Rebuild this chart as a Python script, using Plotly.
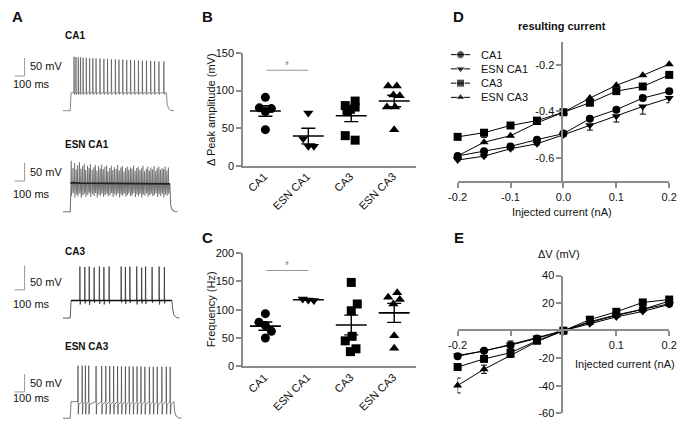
import numpy as np
import plotly.graph_objects as go

W, H = 686, 431
FONT = "Liberation Sans, Arial, sans-serif"

# ---------------- Panel B / C data ----------------
groups = ["CA1", "ESN CA1", "CA3", "ESN CA3"]
symbols = ["circle", "triangle-down", "square", "triangle-up"]

peak_CA1 = [91, 77, 76, 72, 48]
peak_ESN_CA1 = [70, 36, 26, 26]
peak_CA3 = [86, 80, 78, 75, 72, 40, 34]
peak_ESN_CA3 = [106, 106, 94, 93, 78, 78, 48]

freq_CA1 = [93, 78, 72, 62, 50]
freq_ESN_CA1 = [119, 117, 116]
freq_CA3 = [148, 110, 98, 53, 45, 31, 26]
freq_ESN_CA3 = [130, 122, 118, 110, 54, 32]

# horizontal scatter of the dots within each column (category units)
peak_jitter = [[0, -0.14, 0.14, 0, 0], [0, -0.12, 0, 0.13],
               [0.09, -0.14, 0.09, -0.02, -0.1, -0.14, 0.09],
               [-0.14, 0.06, -0.02, 0.13, -0.17, 0.02, 0]]
freq_jitter = [[0, -0.15, 0, 0.14, 0], [-0.13, 0, 0.13],
               [0, 0.14, 0, 0.02, -0.14, 0.11, -0.02],
               [0.07, -0.14, 0.13, -0.02, 0, 0]]

# ---------------- Panel D / E data ----------------
injected = [-0.2, -0.15, -0.1, -0.05, 0.0, 0.05, 0.1, 0.15, 0.2]
cur_CA1 = [-0.592, -0.572, -0.551, -0.522, -0.496, -0.432, -0.393, -0.343, -0.314]
cur_ESN_CA1 = [-0.61, -0.593, -0.561, -0.54, -0.501, -0.46, -0.421, -0.379, -0.343]
cur_CA3 = [-0.51, -0.492, -0.461, -0.44, -0.404, -0.363, -0.313, -0.293, -0.243]
cur_ESN_CA3 = [-0.592, -0.533, -0.505, -0.45, -0.404, -0.343, -0.288, -0.245, -0.197]
cur_err_ESN_CA1 = [0.004, 0.004, 0.005, 0.005, 0.006, 0.021, 0.025, 0.033, 0.02]
cur_err_CA3 = [0.0, 0.02, 0.0, 0.0, 0.0, 0.0, 0.0, 0.0, 0.0]

dv_CA1 = [-18.6, -14.5, -10.5, -5.6, 0, 6.5, 11.5, 15.5, 19.5]
dv_ESN_CA1 = [-18.0, -14.8, -10.0, -5.0, 0, 5.0, 10.0, 14.0, 19.0]
dv_CA3 = [-26.4, -20.5, -16.0, -7.3, 0, 8.0, 13.7, 20.5, 22.6]
dv_ESN_CA3 = [-39.8, -28.0, -18.0, -8.0, 0, 6.0, 11.0, 15.5, 21.5]
dv_err_ESN_CA3 = [5.4, 3.0, 1.5, 0.5, 0, 0.5, 0.5, 0.5, 0.5]
dv_err_CA1 = [0.5, 0.5, 3.0, 0.5, 0, 0.5, 0.5, 0.5, 0.5]

# ---------------- Panel A traces (ms, mV) ----------------
CA1_spike_t = [36, 55, 78, 100, 126, 158, 191, 223, 255, 294, 333, 369, 408, 447,
               483, 521, 560, 599, 638, 677, 716, 757, 799, 838, 881, 930]
CA1_spike_peak = [80, 79, 78, 78, 77, 77, 76, 76, 75, 75, 74, 74, 73, 73, 72, 72,
                  71, 71, 70, 70, 69, 69, 68, 68, 67, 67]
CA1_step = (0, 955, -70, -20)  # on, off, rest, plateau

ESN_CA1_spike_t = [8, 25, 41, 58, 72, 90, 105, 121, 138, 152, 170, 186, 199, 217, 233,
                   248, 264, 280, 296, 311, 327, 343, 360, 374, 391, 407, 422, 438,
                   455, 470, 486, 502, 517, 533, 549, 565, 580, 597, 612, 628, 644,
                   660, 675, 691, 707, 722, 738, 755, 770, 786, 801, 817, 833, 849,
                   864, 880, 896, 912, 927, 943, 959, 975]
ESN_CA1_spike_peak = [72, 52, 66, 48, 60, 68, 50, 57, 63, 46, 58, 51, 62, 47, 54, 60,
                      44, 57, 50, 61, 48, 55, 59, 43, 52, 58, 46, 54, 49, 60, 45, 53,
                      57, 42, 51, 56, 47, 54, 50, 59, 44, 52, 55, 46, 51, 58, 43, 50,
                      56, 45, 53, 48, 57, 44, 51, 55, 47, 52, 49, 56, 45, 53]
ESN_CA1_spike_trough = [-25, -18, -30, -22, -27, -19, -31, -24, -20, -28, -23, -17,
                        -29, -21, -26, -18, -30, -22, -25, -19, -28, -23, -20, -27,
                        -24, -18, -29, -21, -26, -19, -30, -22, -25, -20, -28, -23,
                        -19, -27, -24, -18, -29, -21, -26, -20, -30, -22, -25, -19,
                        -28, -23, -20, -27, -24, -18, -29, -21, -26, -19, -30, -22,
                        -25, -20]
ESN_CA1_mean_t = [0, 20, 100, 300, 500, 700, 900, 990]
ESN_CA1_mean_v = [10, 11, 10, 9, 8.5, 8, 7.5, 7.5]
ESN_CA1_step = (0, 990, -70, 8)

CA3_spike_t = [94, 143, 187, 236, 288, 333, 385, 505, 547, 592, 660, 709, 748, 813, 883, 935]
CA3_spike_peak = [36, 35, 36, 34, 36, 35, 36, 36, 35, 36, 36, 34, 36, 35, 36, 35]
CA3_spike_trough = [-42, -40, -43, -39, -41, -42, -40, -38, -41, -39, -42, -40, -41,
                    -39, -42, -40]
CA3_step = (0, 1010, -70, -34)

ESN_CA3_spike_t = [75, 117, 149, 182, 255, 311, 352, 391, 430, 469, 508, 547, 585,
                   624, 663, 702, 741, 786, 825, 864, 910, 954, 993]
ESN_CA3_spike_peak = [76, 76, 76, 76, 75, 75, 75, 75, 75, 74, 74, 74, 74, 74, 74, 74,
                      73, 73, 73, 73, 73, 73, 73]
ESN_CA3_step = (0, 1030, -70, -24)
ESN_CA3_trough = -59

# ---------------------------------------------------------------------------
def px(x):
    return x / W


def py(y):
    return 1 - y / H


fig = go.Figure()
annotations = []
shapes = []


def ann(text, x, y, size=11, bold=False, color="#111", xanchor="center",
        yanchor="middle", angle=0):
    annotations.append(dict(
        text=f"<b>{text}</b>" if bold else text, x=px(x), y=py(y),
        xref="paper", yref="paper", showarrow=False, xanchor=xanchor,
        yanchor=yanchor, textangle=angle,
        font=dict(family=FONT, size=size, color=color)))


# ---------------- Panel A ----------------
def step_trace(step, spikes):
    on, off, rest, plat = step
    t = [-75, on - 2]
    v = [rest, rest]
    t += [on + 6]
    v += [plat]
    for (ts, peak, trough, after) in spikes:
        t += [ts - 2, ts, ts + 3, ts + 8]
        v += [plat, peak, trough, after]
    t += [off, off + 8, off + 22, off + 45, off + 75]
    v += [plat, rest + 18, rest + 6, rest + 1, rest]
    return t, v


trace_defs = [
    # name, py_base, k (px/mV), scale-bar foot voltage, label y, "50 mV" y, "100 ms" y
    ("CA1", 107.7, 0.37, 26.5, 30, 62, 80),
    ("ESN CA1", 211.7, 0.37, 15.7, 142, 171, 193),
    ("CA3", 321.0, 0.50, -12.0, 253, 284, 307),
    ("ESN CA3", 424.0, 0.37, 3.0, 350, 388, 403),
]
K_T = 0.103  # px per ms
T0_PX = 63

for i, (name, base, k, vbar, label_y, mv_y, ms_y) in enumerate(trace_defs):
    n = 5 + i
    xa, ya = f"x{n}", f"y{n}"
    t_rng = [(0 - T0_PX) / K_T, (180 - T0_PX) / K_T]
    v_rng = [-70 - 6 / k, -70 + 100 / k]
    fig.update_layout(**{
        f"xaxis{n}": dict(domain=[0, px(180)], range=t_rng, visible=False,
                          anchor=ya, fixedrange=True),
        f"yaxis{n}": dict(domain=[py(base + 6), py(base - 100)], range=v_rng,
                          visible=False, anchor=xa, fixedrange=True),
    })
    ann(name, 55, label_y, size=10, bold=True, xanchor="left")
    ann("50 mV", 19, mv_y, size=11, xanchor="left")
    ann("100 ms", 2, ms_y, size=11, xanchor="left")
    tb = (16 - T0_PX) / K_T
    shapes.append(dict(type="line", xref=xa, yref=ya, x0=tb, x1=tb, y0=vbar,
                       y1=vbar + 50, line=dict(color="#999", width=1)))
    shapes.append(dict(type="line", xref=xa, yref=ya, x0=tb - 100, x1=tb,
                       y0=vbar, y1=vbar, line=dict(color="#999", width=1)))

    if name == "CA1":
        sp = [(ts, pk, -25, -21) for ts, pk in zip(CA1_spike_t, CA1_spike_peak)]
        t, v = step_trace(CA1_step, sp)
        fig.add_trace(go.Scatter(x=t, y=v, mode="lines", xaxis=xa, yaxis=ya,
                                 line=dict(color="#555", width=0.7), showlegend=False,
                                 hoverinfo="skip"))
    elif name == "ESN CA1":
        sp = [(ts, pk, tr, 8) for ts, pk, tr in
              zip(ESN_CA1_spike_t, ESN_CA1_spike_peak, ESN_CA1_spike_trough)]
        t, v = step_trace(ESN_CA1_step, sp)
        fig.add_trace(go.Scatter(x=t, y=v, mode="lines", xaxis=xa, yaxis=ya,
                                 line=dict(color="#777", width=1.1), showlegend=False,
                                 hoverinfo="skip"))
        fig.add_trace(go.Scatter(x=ESN_CA1_mean_t, y=ESN_CA1_mean_v, mode="lines",
                                 xaxis=xa, yaxis=ya, line=dict(color="#222", width=1.8),
                                 showlegend=False, hoverinfo="skip"))
    elif name == "CA3":
        sp = [(ts, pk, tr, -34) for ts, pk, tr in
              zip(CA3_spike_t, CA3_spike_peak, CA3_spike_trough)]
        t, v = step_trace(CA3_step, sp)
        fig.add_trace(go.Scatter(x=t, y=v, mode="lines", xaxis=xa, yaxis=ya,
                                 line=dict(color="#333", width=0.8), showlegend=False,
                                 hoverinfo="skip"))
        fig.add_trace(go.Scatter(x=[CA3_step[0] + 6, CA3_step[1]],
                                 y=[CA3_step[3], CA3_step[3]], mode="lines",
                                 xaxis=xa, yaxis=ya, line=dict(color="#111", width=1.6),
                                 showlegend=False, hoverinfo="skip"))
    else:
        sp = [(ts, pk, ESN_CA3_trough, -32) for ts, pk in
              zip(ESN_CA3_spike_t, ESN_CA3_spike_peak)]
        t, v = step_trace(ESN_CA3_step, sp)
        fig.add_trace(go.Scatter(x=t, y=v, mode="lines", xaxis=xa, yaxis=ya,
                                 line=dict(color="#444", width=0.7), showlegend=False,
                                 hoverinfo="skip"))

# ---------------- Panels B & C ----------------
AX_COL = "#8c8c8c"


def dot_panel(values, jitter, xa, ya):
    for i, (vals, jit, sym) in enumerate(zip(values, jitter, symbols)):
        vals = np.array(vals, dtype=float)
        fig.add_trace(go.Scatter(
            x=[i + j for j in jit], y=vals, mode="markers", xaxis=xa, yaxis=ya,
            marker=dict(symbol=sym, size=9, color="black"), showlegend=False,
            cliponaxis=False, hoverinfo="skip"))
        m = vals.mean()
        s = vals.std(ddof=1) / np.sqrt(len(vals))
        fig.add_trace(go.Scatter(
            x=[i - 0.36, i + 0.36], y=[m, m], mode="lines", xaxis=xa, yaxis=ya,
            line=dict(color="black", width=1.6), showlegend=False, hoverinfo="skip"))
        fig.add_trace(go.Scatter(
            x=[i], y=[m], mode="markers", xaxis=xa, yaxis=ya,
            marker=dict(size=1, color="rgba(0,0,0,0)"),
            error_y=dict(type="data", array=[s], visible=True, color="black",
                         thickness=1.4, width=7),
            showlegend=False, hoverinfo="skip"))


dot_panel([peak_CA1, peak_ESN_CA1, peak_CA3, peak_ESN_CA3], peak_jitter, "x", "y")
dot_panel([freq_CA1, freq_ESN_CA1, freq_CA3, freq_ESN_CA3], freq_jitter, "x2", "y2")

cat_axis = dict(range=[-0.52, 3.5], tickvals=[0, 1, 2, 3], showticklabels=False,
                showline=True, linecolor=AX_COL, linewidth=1.5,
                ticks="", showgrid=False, zeroline=False, fixedrange=True)
val_axis = dict(showline=True, linecolor=AX_COL, linewidth=1.5, ticks="outside",
                ticklen=5, tickcolor=AX_COL, tickwidth=1.5, showgrid=False,
                zeroline=False, tickfont=dict(family=FONT, size=11, color="#111"),
                fixedrange=True)

fig.update_layout(
    xaxis=dict(domain=[px(240), px(417)], anchor="y", **cat_axis),
    yaxis=dict(domain=[py(164.3), py(48.3)], anchor="x", range=[0, 150],
               tickvals=[0, 50, 100, 150], **val_axis),
    xaxis2=dict(domain=[px(240), px(417)], anchor="y2", **cat_axis),
    yaxis2=dict(domain=[py(370.7), py(254)], anchor="x2", range=[0, 200],
                tickvals=[0, 50, 100, 150, 200], **val_axis),
)
# rotated category labels, ending just below each column
for xa, ya in [("x", "y"), ("x2", "y2")]:
    for i, g in enumerate(groups):
        annotations.append(dict(
            text=g, x=i, y=0, xref=xa, yref=ya, showarrow=False, textangle=-45,
            xanchor="right", yanchor="top", xshift=7, yshift=-2,
            font=dict(family=FONT, size=11, color="#111")))

# significance bars
shapes.append(dict(type="line", xref="x", yref="y", x0=0.02, x1=1.0, y0=127, y1=127,
                   line=dict(color="#999", width=1.2)))
shapes.append(dict(type="line", xref="x2", yref="y2", x0=0.02, x1=1.0, y0=169, y1=169,
                   line=dict(color="#999", width=1.2)))
annotations.append(dict(text="*", x=0.5, y=133, xref="x", yref="y", showarrow=False,
                        font=dict(family=FONT, size=10, color="#888")))
annotations.append(dict(text="*", x=0.5, y=178, xref="x2", yref="y2", showarrow=False,
                        font=dict(family=FONT, size=10, color="#888")))
ann("Δ Peak amplitude (mV)", 207, 106, size=11, angle=-90)
ann("Frequency (Hz)", 207, 312, size=11, angle=-90)

# ---------------- Panels D & E ----------------
series_D = [cur_CA1, cur_ESN_CA1, cur_CA3, cur_ESN_CA3]
err_D = [None, cur_err_ESN_CA1, cur_err_CA3, None]
series_E = [dv_CA1, dv_ESN_CA1, dv_CA3, dv_ESN_CA3]
err_E = [dv_err_CA1, None, None, dv_err_ESN_CA3]

for i, (name, sym) in enumerate(zip(groups, symbols)):
    ed = err_D[i]
    fig.add_trace(go.Scatter(
        x=injected, y=series_D[i], mode="lines+markers", name=name, xaxis="x3",
        yaxis="y3", line=dict(color="black", width=1),
        marker=dict(symbol=sym, size=8, color="black"), cliponaxis=False,
        error_y=(dict(type="data", symmetric=False, array=[0] * len(ed), arrayminus=ed,
                      color="black", thickness=1, width=3) if ed else None),
        showlegend=False, hoverinfo="skip"))
for i, (name, sym) in enumerate(zip(groups, symbols)):
    ee = err_E[i]
    fig.add_trace(go.Scatter(
        x=injected, y=series_E[i], mode="lines+markers", name=name, xaxis="x4",
        yaxis="y4", line=dict(color="black", width=1),
        marker=dict(symbol=sym, size=8, color="black"), cliponaxis=False,
        error_y=(dict(type="data", array=ee, color="black", thickness=1, width=3)
                 if ee else None),
        showlegend=False, hoverinfo="skip"))

# legend keys for panel D (drawn on a small hidden axis: one row per series)
fig.update_layout(
    xaxis9=dict(domain=[px(453), px(473)], range=[0, 2], visible=False, anchor="y9",
                fixedrange=True),
    yaxis9=dict(domain=[py(101.3), py(42.7)], range=[3.5, -0.5], visible=False,
                anchor="x9", fixedrange=True),
)
for i, (name, sym) in enumerate(zip(groups, symbols)):
    fig.add_trace(go.Scatter(
        x=[0, 1, 2], y=[i, i, i], mode="lines+markers", xaxis="x9", yaxis="y9",
        line=dict(color="black", width=1), cliponaxis=False,
        marker=dict(symbol=sym, size=[0, 8, 0], color="black"),
        showlegend=False, hoverinfo="skip"))
    ann(name, 482, 50 + 14.7 * i, size=11, xanchor="left")

inj_ticks = [-0.2, -0.1, 0.0, 0.1, 0.2]
line_axis = dict(showline=True, linecolor=AX_COL, linewidth=1.5, ticks="outside",
                 ticklen=5, tickcolor=AX_COL, tickwidth=1.5, showgrid=False,
                 zeroline=False, tickfont=dict(family=FONT, size=11, color="#111"),
                 fixedrange=True)
fig.update_layout(
    xaxis3=dict(domain=[px(460), px(677)], anchor="y3", range=[-0.2, 0.2],
                tickvals=inj_ticks, ticktext=["-0.2", "-0.1", "0.0", "0.1", "0.2"],
                **line_axis),
    yaxis3=dict(domain=[py(180), py(36.7)], anchor="free", position=px(567.3),
                range=[-0.7, -0.1], tickvals=[-0.6, -0.4, -0.2],
                ticktext=["-0.6", "-0.4", "-0.2"], **line_axis),
    xaxis4=dict(domain=[px(460), px(677)], anchor="free", position=py(333.7),
                range=[-0.2, 0.2], tickvals=inj_ticks,
                ticktext=["-0.2", "", "", "0.1", "0.2"], **line_axis),
    yaxis4=dict(domain=[py(419), py(277.3)], anchor="free", position=px(567.3),
                range=[-60, 40], tickvals=[-60, -40, -20, 0, 20, 40],
                ticktext=["-60", "-40", "-20", "", "20", "40"], **line_axis),
)
ann("resulting current", 567, 21, size=11, bold=True)
ann("Injected current (nA)", 567, 212, size=11)
ann("ΔV (mV)", 564, 255, size=11)
ann("Injected current (nA)", 632, 368, size=11)

# panel letters
for letter, x, y in [("A", 9, 11), ("B", 204, 11), ("C", 204, 238), ("D", 461, 11),
                     ("E", 461, 238)]:
    ann(letter, x, y, size=15, bold=True)

fig.update_layout(
    width=W, height=H, margin=dict(l=0, r=0, t=0, b=0),
    paper_bgcolor="white", plot_bgcolor="rgba(0,0,0,0)",
    font=dict(family=FONT, size=11, color="#111"),
    annotations=annotations, shapes=shapes, showlegend=False,
)

fig.write_html("out.html", config={"displayModeBar": False},
               post_script="document.body.style.margin='0';")
